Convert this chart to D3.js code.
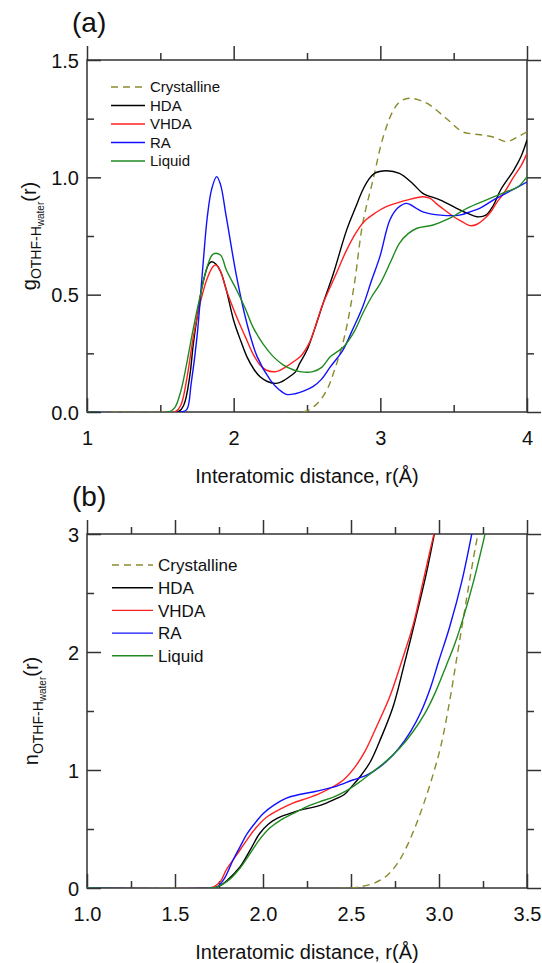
<!DOCTYPE html>
<html>
<head>
<meta charset="utf-8">
<script src="https://cdn.jsdelivr.net/npm/d3@7"></script>
<style>
  body { margin: 0; background: #fff; }
  svg { font-family: "Liberation Sans", Arial, sans-serif; }
  .frame { fill: none; stroke: #333; stroke-width: 1.5px; }
  .tick line { stroke: #333; stroke-width: 1.5px; }
  .domain { display: none; }
  .line { fill: none; stroke-width: 1.4px; }
</style>
</head>
<body>
<div id="chart"></div>
<script>
// series names and colours
const seriesNames = ["Crystalline", "HDA", "VHDA", "RA", "Liquid"];
const seriesColors = ["#8a8a2e", "#000000", "#ff2020", "#1010ff", "#208a20"];

// (a) g(r) — [r, g]
const gCrystalline = [[1,0],[2.45,0],[2.5,0.005],[2.55,0.025],[2.59,0.05],[2.64,0.1],[2.68,0.165],[2.75,0.307],[2.82,0.534],[2.88,0.804],[2.95,0.989],[3.02,1.173],[3.09,1.287],[3.14,1.325],[3.2,1.337],[3.26,1.33],[3.32,1.315],[3.45,1.251],[3.56,1.194],[3.63,1.185],[3.7,1.18],[3.78,1.17],[3.86,1.152],[3.93,1.17],[4.0,1.194]];
const gHDA = [[1,0],[1.62,0],[1.66,0.03],[1.7,0.15],[1.725,0.29],[1.76,0.44],[1.79,0.55],[1.83,0.63],[1.85,0.64],[1.88,0.63],[1.91,0.6],[1.95,0.52],[2.0,0.39],[2.05,0.3],[2.09,0.236],[2.14,0.18],[2.18,0.15],[2.23,0.13],[2.29,0.122],[2.33,0.13],[2.38,0.15],[2.42,0.17],[2.45,0.207],[2.5,0.264],[2.55,0.35],[2.61,0.463],[2.68,0.59],[2.77,0.775],[2.83,0.87],[2.88,0.946],[2.92,0.99],[2.96,1.017],[3.04,1.028],[3.13,1.017],[3.22,0.974],[3.29,0.932],[3.41,0.903],[3.52,0.868],[3.6,0.845],[3.66,0.832],[3.72,0.839],[3.77,0.88],[3.82,0.946],[3.91,1.031],[3.96,1.09],[4.0,1.159]];
const gVHDA = [[1,0],[1.6,0],[1.64,0.03],[1.68,0.14],[1.725,0.32],[1.77,0.46],[1.82,0.57],[1.86,0.62],[1.88,0.626],[1.91,0.6],[1.95,0.52],[2.02,0.406],[2.08,0.32],[2.13,0.25],[2.18,0.2],[2.22,0.179],[2.29,0.172],[2.35,0.19],[2.41,0.215],[2.46,0.24],[2.52,0.3],[2.56,0.37],[2.61,0.463],[2.7,0.59],[2.77,0.69],[2.84,0.77],[2.9,0.818],[2.97,0.85],[3.04,0.875],[3.11,0.89],[3.18,0.903],[3.29,0.917],[3.34,0.91],[3.38,0.889],[3.44,0.86],[3.5,0.832],[3.56,0.81],[3.61,0.794],[3.66,0.8],[3.7,0.818],[3.75,0.85],[3.79,0.889],[3.85,0.94],[3.91,1.003],[3.96,1.05],[4.0,1.102]];
const gRA = [[1,0],[1.64,0],[1.68,0.01],[1.71,0.12],[1.75,0.32],[1.79,0.62],[1.82,0.83],[1.85,0.95],[1.884,1.003],[1.91,0.97],[1.95,0.83],[2.02,0.577],[2.09,0.378],[2.16,0.236],[2.25,0.136],[2.31,0.095],[2.36,0.075],[2.42,0.078],[2.48,0.09],[2.54,0.108],[2.6,0.14],[2.66,0.193],[2.745,0.264],[2.81,0.35],[2.88,0.449],[2.94,0.56],[2.997,0.662],[3.065,0.818],[3.12,0.87],[3.18,0.889],[3.24,0.87],[3.29,0.853],[3.41,0.839],[3.54,0.839],[3.62,0.855],[3.68,0.869],[3.77,0.903],[3.9,0.946],[4.0,0.98]];
const gLiquid = [[1,0],[1.56,0],[1.6,0.02],[1.64,0.09],[1.68,0.207],[1.72,0.34],[1.77,0.49],[1.82,0.62],[1.86,0.673],[1.91,0.669],[1.95,0.605],[2.02,0.52],[2.08,0.44],[2.13,0.364],[2.2,0.29],[2.27,0.236],[2.34,0.2],[2.41,0.179],[2.45,0.172],[2.54,0.172],[2.6,0.19],[2.66,0.236],[2.75,0.278],[2.82,0.34],[2.88,0.42],[2.94,0.49],[3.0,0.548],[3.07,0.64],[3.13,0.719],[3.19,0.76],[3.25,0.783],[3.36,0.797],[3.47,0.825],[3.59,0.868],[3.72,0.903],[3.86,0.939],[3.94,0.96],[4.0,1.003]];

// (b) n(r) — [r, n]
const nCrystalline = [[1,0],[2.5,0],[2.55,0.01],[2.63,0.04],[2.7,0.1],[2.76,0.2],[2.81,0.33],[2.86,0.5],[2.91,0.7],[2.96,0.93],[3.01,1.2],[3.06,1.58],[3.1,1.94],[3.14,2.3],[3.18,2.66],[3.22,2.99],[3.24,3.12]];
const nHDA = [[1,0],[1.7,0],[1.75,0.015],[1.8,0.07],[1.87,0.18],[1.93,0.33],[1.98,0.46],[2.03,0.54],[2.08,0.59],[2.15,0.63],[2.21,0.66],[2.3,0.69],[2.36,0.72],[2.42,0.76],[2.46,0.79],[2.51,0.87],[2.56,0.96],[2.61,1.07],[2.67,1.27],[2.74,1.54],[2.8,1.88],[2.87,2.3],[2.93,2.68],[2.98,3.05]];
const nVHDA = [[1,0],[1.68,0],[1.72,0.01],[1.76,0.06],[1.79,0.15],[1.85,0.28],[1.91,0.41],[1.96,0.51],[2.02,0.6],[2.1,0.67],[2.17,0.72],[2.25,0.76],[2.32,0.8],[2.4,0.86],[2.46,0.92],[2.52,1.02],[2.58,1.16],[2.64,1.35],[2.72,1.62],[2.79,1.93],[2.855,2.24],[2.91,2.6],[2.97,2.99],[2.99,3.1]];
const nRA = [[1,0],[1.7,0],[1.74,0.01],[1.78,0.08],[1.83,0.237],[1.87,0.35],[1.91,0.46],[1.96,0.56],[2.0,0.63],[2.06,0.7],[2.13,0.76],[2.2,0.79],[2.29,0.816],[2.36,0.84],[2.42,0.864],[2.51,0.915],[2.58,0.95],[2.63,0.99],[2.7,1.07],[2.77,1.18],[2.84,1.33],[2.9,1.5],[2.95,1.69],[3.0,1.93],[3.06,2.21],[3.13,2.6],[3.185,2.99],[3.2,3.1]];
const nLiquid = [[1,0],[1.7,0],[1.74,0.01],[1.8,0.06],[1.87,0.17],[1.93,0.3],[1.98,0.41],[2.04,0.51],[2.1,0.576],[2.17,0.63],[2.25,0.69],[2.32,0.73],[2.4,0.77],[2.48,0.83],[2.55,0.9],[2.62,0.98],[2.7,1.075],[2.78,1.19],[2.85,1.32],[2.92,1.48],[2.98,1.66],[3.04,1.88],[3.09,2.07],[3.14,2.3],[3.2,2.62],[3.26,2.99],[3.28,3.12]];

// axis ticks
const aXMajor = [1, 2, 3, 4], aXMinor = [1.5, 2.5, 3.5];
const aYMajor = [0, 0.5, 1.0, 1.5], aYMinor = [0.25, 0.75, 1.25];
const bXMajor = [1.0, 1.5, 2.0, 2.5, 3.0, 3.5], bXMinor = [1.25, 1.75, 2.25, 2.75, 3.25];
const bYMajor = [0, 1, 2, 3], bYMinor = [0.5, 1.5, 2.5];

const svg = d3.select("#chart").append("svg")
  .attr("width", 542)
  .attr("height", 963);

function panel(cfg) {
  const x = d3.scaleLinear().domain(cfg.xDomain).range([cfg.left, cfg.right]);
  const y = d3.scaleLinear().domain(cfg.yDomain).range([cfg.bottom, cfg.top]);
  const g = svg.append("g");
  const w = cfg.right - cfg.left, h = cfg.bottom - cfg.top;

  g.append("clipPath").attr("id", cfg.id)
    .append("rect").attr("x", cfg.left).attr("y", cfg.top).attr("width", w).attr("height", h);

  // ticks, all inward, on four sides
  const big = 14, small = 7;
  function ticks(axisFn, pos, vals, len, fmt) {
    const a = axisFn.tickValues(vals).tickSizeInner(-len).tickSizeOuter(0)
      .tickFormat(fmt || "");
    return g.append("g").attr("transform", pos).call(a);
  }
  const bx = ticks(d3.axisBottom(x), `translate(0,${cfg.bottom})`, cfg.xMajor, big, cfg.xFmt);
  ticks(d3.axisBottom(x), `translate(0,${cfg.bottom})`, cfg.xMinor, small);
  ticks(d3.axisTop(x), `translate(0,${cfg.top})`, cfg.xMajor, -big);
  ticks(d3.axisTop(x), `translate(0,${cfg.top})`, cfg.xMinor, -small);
  const ly = ticks(d3.axisLeft(y), `translate(${cfg.left},0)`, cfg.yMajor, big, cfg.yFmt);
  ticks(d3.axisLeft(y), `translate(${cfg.left},0)`, cfg.yMinor, small);
  ticks(d3.axisRight(y), `translate(${cfg.right},0)`, cfg.yMajor, -big);
  ticks(d3.axisRight(y), `translate(${cfg.right},0)`, cfg.yMinor, -small);

  bx.selectAll("text").attr("font-size", 20).attr("fill", "#111")
    .attr("font-family", "Liberation Sans, Arial, sans-serif")
    .attr("y", 19).attr("dy", "0.71em");
  ly.selectAll("text").attr("font-size", 20).attr("fill", "#111")
    .attr("font-family", "Liberation Sans, Arial, sans-serif")
    .attr("x", -8).attr("dy", "0.36em");

  g.append("rect").attr("class", "frame")
    .attr("x", cfg.left).attr("y", cfg.top).attr("width", w).attr("height", h);

  const line = d3.line().x(d => x(d[0])).y(d => y(d[1])).curve(d3.curveCatmullRom.alpha(0.5));
  const plot = g.append("g").attr("clip-path", `url(#${cfg.id})`);
  cfg.series.forEach((s, i) => {
    plot.append("path").attr("class", "line")
      .attr("d", line(s))
      .attr("stroke", seriesColors[i])
      .attr("stroke-dasharray", i === 0 ? "7,5" : null);
  });

  // legend
  const lg = g.append("g");
  seriesNames.forEach((name, i) => {
    const yy = cfg.legY + i * cfg.legStep;
    lg.append("line")
      .attr("x1", cfg.legX).attr("x2", cfg.legX + cfg.legLen)
      .attr("y1", yy).attr("y2", yy)
      .attr("stroke", seriesColors[i]).attr("stroke-width", 1.4)
      .attr("stroke-dasharray", i === 0 ? "7,5" : null);
    lg.append("text")
      .attr("x", cfg.legX + cfg.legLen + 5).attr("y", yy).attr("dy", "0.36em")
      .attr("font-size", cfg.legFont).attr("fill", "#111")
      .text(name);
  });

  // x title
  g.append("text")
    .attr("x", (cfg.left + cfg.right) / 2).attr("y", cfg.bottom + 71)
    .attr("text-anchor", "middle").attr("font-size", 20).attr("fill", "#111")
    .text("Interatomic distance, r(Å)");

  // panel label
  g.append("text")
    .attr("x", 72).attr("y", cfg.labelY)
    .attr("font-size", 28).attr("fill", "#111")
    .text(cfg.label);

  // y title
  const yt = g.append("text")
    .attr("transform", `translate(${cfg.yTitleX},${(cfg.top + cfg.bottom) / 2}) rotate(-90)`)
    .attr("text-anchor", "middle").attr("font-size", 20).attr("fill", "#111");
  yt.append("tspan").text(cfg.yLetter);
  yt.append("tspan").attr("font-size", 14).attr("dy", 5).text("OTHF-H");
  yt.append("tspan").attr("font-size", 10).attr("dy", 3).text("water");
  yt.append("tspan").attr("font-size", 20).attr("dy", -8).text("(r)");
}

panel({
  id: "clipA", label: "(a)", yLetter: "g", labelY: 32,
  left: 87, right: 527, top: 60, bottom: 412,
  xDomain: [1, 4], yDomain: [0, 1.5],
  xMajor: aXMajor, xMinor: aXMinor, yMajor: aYMajor, yMinor: aYMinor,
  xFmt: d3.format("d"), yFmt: d3.format(".1f"),
  series: [gCrystalline, gHDA, gVHDA, gRA, gLiquid],
  legX: 111, legY: 87, legStep: 18.5, legLen: 34, legFont: 15,
  yTitleX: 36
});

panel({
  id: "clipB", label: "(b)", yLetter: "n", labelY: 506,
  left: 87, right: 527, top: 534, bottom: 888,
  xDomain: [1, 3.5], yDomain: [0, 3],
  xMajor: bXMajor, xMinor: bXMinor, yMajor: bYMajor, yMinor: bYMinor,
  xFmt: d3.format(".1f"), yFmt: d3.format("d"),
  series: [nCrystalline, nHDA, nVHDA, nRA, nLiquid],
  legX: 112, legY: 565, legStep: 22.7, legLen: 41, legFont: 17,
  yTitleX: 38
});
</script>
</body>
</html>
